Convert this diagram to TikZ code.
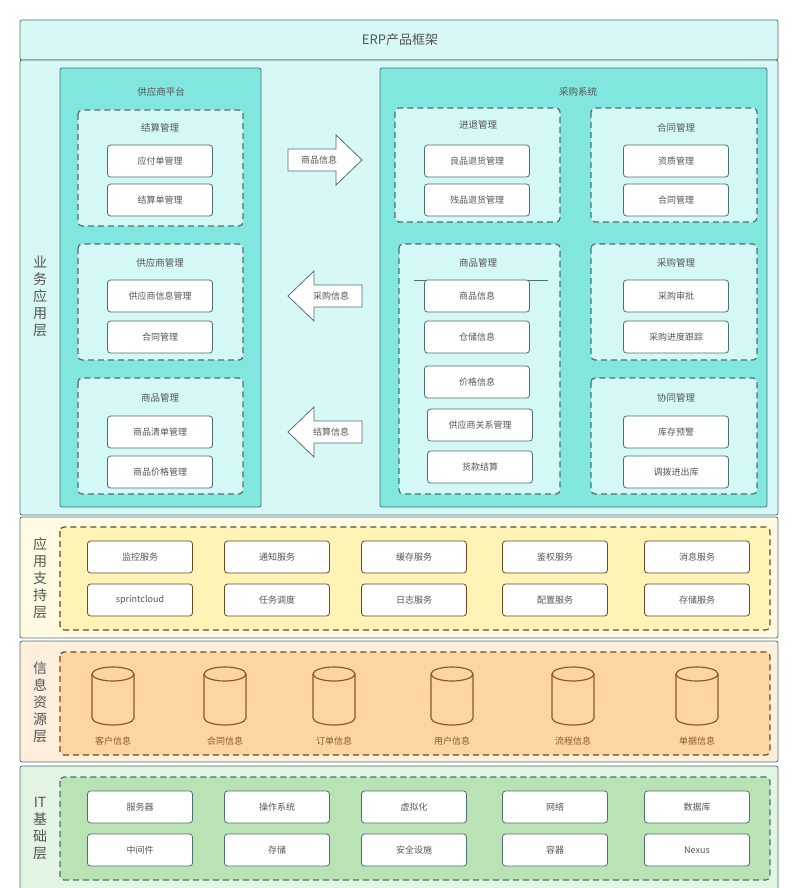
\documentclass[tikz,border=0pt]{standalone}
\usepackage{fontspec}
\setmainfont{Noto Sans CJK SC}
\usetikzlibrary{positioning}

\definecolor{lineC}{HTML}{4F6F72}
\definecolor{txtC}{HTML}{555555}
\definecolor{cyanBg}{HTML}{D8F8F5}
\definecolor{tealC}{HTML}{80E6DE}
\definecolor{grpC}{HTML}{D4F8F6}
\definecolor{yelBg}{HTML}{FFFBE2}
\definecolor{yelIn}{HTML}{FFF3B6}
\definecolor{oraBg}{HTML}{FDEFDC}
\definecolor{oraIn}{HTML}{FDD5A4}
\definecolor{brownC}{HTML}{8A5A2A}
\definecolor{greBg}{HTML}{E2F5E2}
\definecolor{greIn}{HTML}{B9E3B5}

\tikzset{
  layer/.style={draw=lineC, thick, rounded corners=2pt},
  box/.style={draw=lineC, thick, rounded corners=3pt, fill=white, text=txtC,
    minimum width=105pt, minimum height=32pt, font=\fontsize{9}{10}\selectfont},
  grp/.style={draw=lineC, line width=1.2pt, dash pattern=on 6pt off 4pt, rounded corners=4pt, fill=grpC},
  gtitle/.style={text=txtC, font=\fontsize{9.5}{11}\selectfont},
  vlabel/.style={text=txtC, align=center, font=\fontsize{14}{17}\selectfont},
  flow/.style={draw=lineC, thick, fill=white},
}
\newcommand{\dbcyl}[3]{%
  \draw[brownC, line width=1.2pt] (#1-21,674) -- (#1-21,718) arc[start angle=180,end angle=0,x radius=21,y radius=7] -- (#1+21,674);
  \draw[brownC, line width=1.2pt] (#1,674) ellipse[x radius=21,y radius=7];
  \node[text=brownC, font=\fontsize{9}{10}\selectfont] (#2) at (#1,741) {#3};}

\begin{document}
\begin{tikzpicture}[x=1pt, y=-1pt]
  \useasboundingbox (0,0) rectangle (800,888);

  % title and layers
  \draw[layer, fill=cyanBg] (20,20) rectangle (778,60);
  \node[text=txtC, font=\fontsize{13}{15}\selectfont] (title) at (400,40) {ERP产品框架};
  \draw[layer, fill=cyanBg] (20,60) rectangle (778,515);
  \node[vlabel] (bizLbl) at (40,296) {业\\务\\应\\用\\层};
  \draw[layer, fill=yelBg] (20,517) rectangle (778,638);
  \node[vlabel] (supLbl) at (40,578) {应\\用\\支\\持\\层};
  \draw[layer, fill=oraBg] (20,641) rectangle (778,762);
  \node[vlabel] (resLbl) at (40,702) {信\\息\\资\\源\\层};
  \draw[layer, fill=greBg] (20,766) rectangle (778,892);
  \node[vlabel] (itLbl) at (40,828) {IT\\基\\础\\层};

  % supplier platform
  \draw[layer, fill=tealC] (60,68) rectangle (261,507);
  \node[gtitle] (platT) at (161,92) {供应商平台};
  \draw[grp] (78,110) rectangle (243,226);
  \node[gtitle] (settleT) at (160,128) {结算管理};
  \node[box] (payable) at (160,161) {应付单管理};
  \node[box] (settleBill) at (160,200) {结算单管理};
  \draw[grp] (78,244) rectangle (243,360);
  \node[gtitle] (supT) at (160,263) {供应商管理};
  \node[box] (supInfo) at (160,296) {供应商信息管理};
  \node[box] (contractA) at (160,337) {合同管理};
  \draw[grp] (78,378) rectangle (243,494);
  \node[gtitle] (goodsT) at (160,398) {商品管理};
  \node[box] (goodsList) at (160,432) {商品清单管理};
  \node[box] (goodsPrice) at (160,472) {商品价格管理};

  % flow arrows
  \draw[flow] (288,149) -- (336,149) -- (336,135) -- (362,160) -- (336,185) -- (336,171) -- (288,171) -- cycle;
  \node[text=txtC, font=\fontsize{9}{10}\selectfont] (goodsFlow) at (319,160) {商品信息};
  \draw[flow] (362,285) -- (314,285) -- (314,271) -- (288,296) -- (314,321) -- (314,307) -- (362,307) -- cycle;
  \node[text=txtC, font=\fontsize{9}{10}\selectfont] (buyFlow) at (331,296) {采购信息};
  \draw[flow] (362,421) -- (314,421) -- (314,407) -- (288,432) -- (314,457) -- (314,443) -- (362,443) -- cycle;
  \node[text=txtC, font=\fontsize{9}{10}\selectfont] (payFlow) at (331,432) {结算信息};

  % purchase system
  \draw[layer, fill=tealC] (380,68) rectangle (767,507);
  \node[gtitle] (sysT) at (578,92) {采购系统};
  \draw[grp] (395,108) rectangle (560,222);
  \node[gtitle] (retT) at (478,125) {进退管理};
  \node[box] (goodRet) at (477,161) {良品退货管理};
  \node[box] (badRet) at (477,200) {残品退货管理};
  \draw[grp] (591,108) rectangle (757,222);
  \node[gtitle] (conT) at (676,128) {合同管理};
  \node[box] (qualify) at (676,161) {资质管理};
  \node[box] (contractB) at (676,200) {合同管理};
  \draw[grp] (399,244) rectangle (560,494);
  \node[gtitle] (gmT) at (478,263) {商品管理};
  \draw[lineC] (414,280) -- (548,280);
  \node[box] (goodsInfo) at (477,296) {商品信息};
  \node[box] (storeInfo) at (477,337) {仓储信息};
  \node[box] (priceInfo) at (477,382) {价格信息};
  \node[box] (supRel) at (480,425) {供应商关系管理};
  \node[box] (paySettle) at (480,467) {货款结算};
  \draw[grp] (591,244) rectangle (757,360);
  \node[gtitle] (buyT) at (676,263) {采购管理};
  \node[box] (approve) at (676,296) {采购审批};
  \node[box] (track) at (676,337) {采购进度跟踪};
  \draw[grp] (591,378) rectangle (757,494);
  \node[gtitle] (coT) at (676,398) {协同管理};
  \node[box] (stockWarn) at (676,432) {库存预警};
  \node[box] (transfer) at (676,472) {调拨进出库};

  % application support
  \draw[grp, draw=brownC!80!black, fill=yelIn] (60,527) rectangle (770,630);
  \foreach \x/\n/\t in {140/monitor/监控服务, 277/notify/通知服务, 414/cache/缓存服务, 555/auth/鉴权服务, 697/msg/消息服务}
    \node[box, draw=brownC!80!black] (\n) at (\x,557) {\t};
  \foreach \x/\n/\t in {140/cloud/sprintcloud, 277/sched/任务调度, 414/logSvc/日志服务, 555/conf/配置服务, 697/stor/存储服务}
    \node[box, draw=brownC!80!black] (\n) at (\x,600) {\t};

  % information resources
  \draw[grp, draw=brownC!80!black, fill=oraIn] (60,652) rectangle (770,755);
  \dbcyl{113}{custDb}{客户信息}
  \dbcyl{225}{contDb}{合同信息}
  \dbcyl{334}{orderDb}{订单信息}
  \dbcyl{452}{userDb}{用户信息}
  \dbcyl{573}{procDb}{流程信息}
  \dbcyl{697}{billDb}{单据信息}

  % IT infrastructure
  \draw[grp, fill=greIn] (60,777) rectangle (770,880);
  \foreach \x/\n/\t in {140/server/服务器, 277/os/操作系统, 414/virt/虚拟化, 555/net/网络, 697/db/数据库}
    \node[box] (\n) at (\x,807) {\t};
  \foreach \x/\n/\t in {140/mid/中间件, 277/disk/存储, 414/sec/安全设施, 555/cont/容器, 697/nexus/Nexus}
    \node[box] (\n) at (\x,850) {\t};
\end{tikzpicture}
\end{document}
